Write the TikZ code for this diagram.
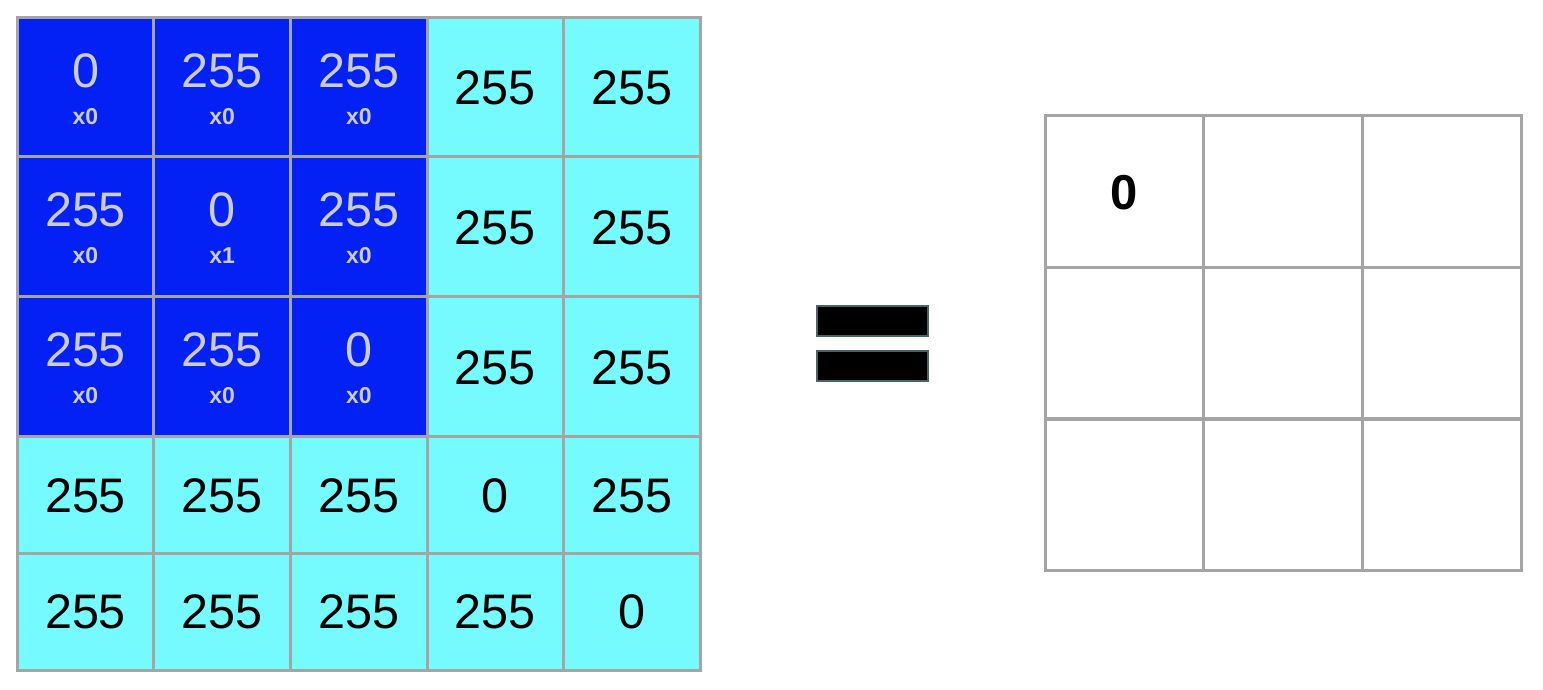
\documentclass[tikz,border=0pt]{standalone}
\usepackage{fontspec}
\setmainfont{Liberation Sans}
\definecolor{kblue}{RGB}{3,32,245}
\definecolor{kcyan}{RGB}{117,251,253}
\definecolor{kgrid}{RGB}{164,164,164}
\definecolor{kltxt}{RGB}{204,204,204}
\definecolor{keqb}{RGB}{72,102,102}
\tikzset{
  cellbase/.style={rectangle, draw=kgrid, line width=3pt, inner sep=0pt, minimum width=136.6pt},
  bcell/.style={cellbase, fill=kblue},
  ccell/.style={cellbase, fill=kcyan},
  wcell/.style={rectangle, draw=kgrid, line width=3pt, inner sep=0pt, fill=white, minimum width=158.7pt, minimum height=151.7pt},
  bignum/.style={inner sep=0pt, font=\fontsize{48.5}{48.5}\selectfont},
  lnum/.style={bignum, text=kltxt},
  dnum/.style={bignum, text=black},
  mult/.style={inner sep=0pt, text=kltxt, font=\fontsize{23}{23}\selectfont\bfseries},
  resnum/.style={inner sep=0pt, text=black, font=\fontsize{49}{49}\selectfont\bfseries},
  eqbar/.style={rectangle, fill=black, draw=keqb, line width=2.5pt, inner sep=0pt, minimum width=111pt, minimum height=30pt}
}
\begin{document}
\begin{tikzpicture}[x=1pt,y=-1pt]
\useasboundingbox (0,0) rectangle (1543,689);
\def\cxs{{0,85.5,222.2,358.8,495.4,632}}
\def\cys{{0,86.5,226,366,494.5,611.5}}
\def\hs{{0,139,140,140,117,117}}
\def\tys{{0,1.5,1.5,1.5,1,0}}
% cyan cells
\foreach \r/\c/\v in {1/4/255,1/5/255,2/4/255,2/5/255,3/4/255,3/5/255,
  4/1/255,4/2/255,4/3/255,4/4/0,4/5/255,5/1/255,5/2/255,5/3/255,5/4/255,5/5/0}{
  \pgfmathsetmacro\cx{\cxs[\c]}
  \pgfmathsetmacro\cy{\cys[\r]}
  \pgfmathsetmacro\h{\hs[\r]}
  \pgfmathsetmacro\ty{\cy+\tys[\r]}
  \node[ccell, minimum height=\h pt] (L\r\c) at (\cx,\cy) {};
  \node[dnum] (V\r\c) at (\cx,\ty) {\v};
}
% blue cells (kernel window)
\foreach \r/\c/\v/\m in {1/1/0/0,1/2/255/0,1/3/255/0,2/1/255/0,2/2/0/1,2/3/255/0,3/1/255/0,3/2/255/0,3/3/0/0}{
  \pgfmathsetmacro\cx{\cxs[\c]}
  \pgfmathsetmacro\cy{\cys[\r]}
  \pgfmathsetmacro\h{\hs[\r]}
  \pgfmathsetmacro\ty{\cy-\h/2+53.5}
  \pgfmathsetmacro\my{\cy-\h/2+99.5}
  \node[bcell, minimum height=\h pt] (L\r\c) at (\cx,\cy) {};
  \node[lnum] (V\r\c) at (\cx,\ty) {\v};
  \node[mult] (M\r\c) at (\cx,\my) {x\m};
}
% equals sign
\node[eqbar] (eq1) at (872.5,321) {};
\node[eqbar] (eq2) at (872.5,366) {};
% result grid
\foreach \r/\cy in {1/191.5,2/343,3/495}{
  \foreach \c/\cx in {1/1124.5,2/1283.2,3/1441.8}{
    \node[wcell] (R\r\c) at (\cx,\cy) {};
  }
}
\node[resnum] (res11) at ([yshift=-1pt]R11.center) {0};
\end{tikzpicture}
\end{document}
